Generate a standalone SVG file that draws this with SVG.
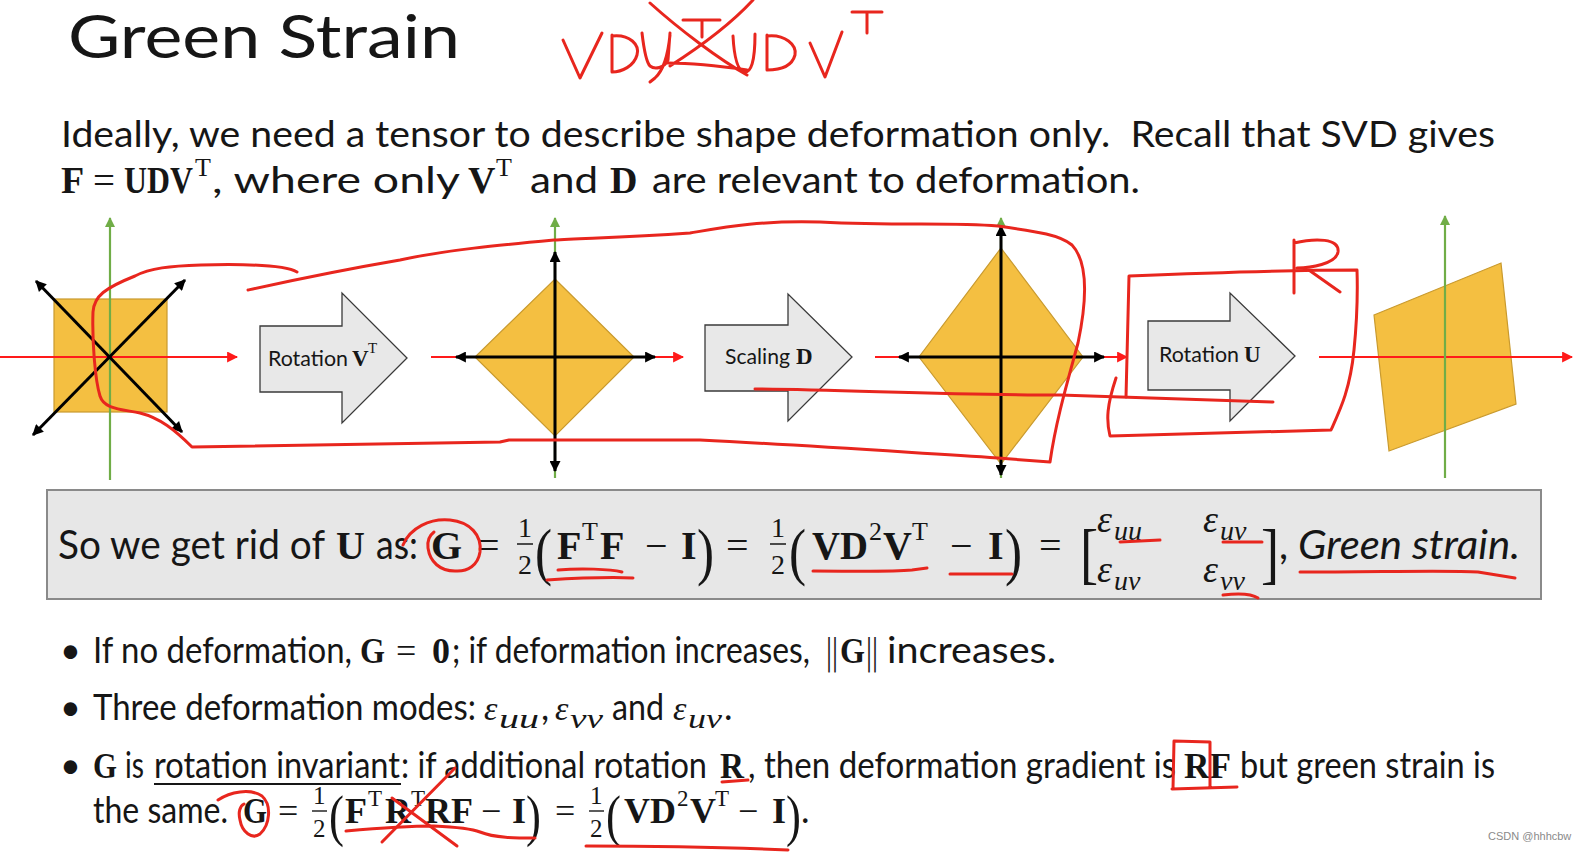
<svg xmlns="http://www.w3.org/2000/svg" width="1584" height="857" viewBox="0 0 1584 857">
<defs>
<style>
.s{font-family:Lato,"Liberation Sans",sans-serif;fill:#161616}
.si{font-family:Lato,"Liberation Sans",sans-serif;font-style:italic;fill:#161616}
.mb{font-family:"Liberation Serif",serif;font-weight:bold;fill:#161616}
.mr{font-family:"Liberation Serif",serif;fill:#161616}
.mi{font-family:"Liberation Serif",serif;font-style:italic;fill:#161616}
.pen{fill:none;stroke:#E8261E;stroke-width:3;stroke-linecap:round;stroke-linejoin:round}
.gax{stroke:#70AD47;stroke-width:2.2;marker-end:url(#ag)}
.rax{stroke:#FF1A1A;stroke-width:1.8;marker-end:url(#ar)}
.bax{stroke:#000;stroke-width:3;marker-start:url(#ab);marker-end:url(#ab)}
.shape{fill:#F4BF41;stroke:#C99A2E;stroke-width:1.2}
.big{fill:#E8E8E8;stroke:#3A3A3A;stroke-width:1.3}
</style>
<marker id="ag" viewBox="0 0 10 10" refX="9" refY="5" markerWidth="10" markerHeight="12" markerUnits="userSpaceOnUse" orient="auto"><path d="M0,0 L10,5 L0,10 z" fill="#70AD47"/></marker>
<marker id="ar" viewBox="0 0 10 10" refX="9" refY="5" markerWidth="11" markerHeight="11" markerUnits="userSpaceOnUse" orient="auto"><path d="M0,0 L10,5 L0,10 z" fill="#FF1A1A"/></marker>
<marker id="ab" viewBox="0 0 10 10" refX="9" refY="5" markerWidth="12" markerHeight="11" markerUnits="userSpaceOnUse" orient="auto-start-reverse"><path d="M0,0 L10,5 L0,10 z" fill="#000"/></marker>
</defs>
<rect width="1584" height="857" fill="#fff"/>

<g id="title">
<text class="s" x="68" y="58" font-size="60" textLength="392" lengthAdjust="spacingAndGlyphs">Green Strain</text>
</g>

<g id="intro">
<text class="s" x="61" y="147" font-size="37" textLength="1434" lengthAdjust="spacingAndGlyphs">Ideally, we need a tensor to describe shape deformation only.&#160; Recall that SVD gives</text>
<text class="mb" x="61" y="193" font-size="38">F</text>
<text class="mr" x="93" y="193" font-size="38" textLength="22" lengthAdjust="spacingAndGlyphs">=</text>
<text class="mb" x="124" y="193" font-size="38" textLength="69" lengthAdjust="spacingAndGlyphs">UDV</text>
<text class="mr" x="195" y="176" font-size="26">T</text>
<text class="s" x="212" y="193" font-size="37" textLength="248" lengthAdjust="spacingAndGlyphs">, where only</text>
<text class="mb" x="468" y="193" font-size="38">V</text>
<text class="mr" x="496" y="176" font-size="26">T</text>
<text class="s" x="530" y="193" font-size="37" textLength="68" lengthAdjust="spacingAndGlyphs">and</text>
<text class="mb" x="610" y="193" font-size="38">D</text>
<text class="s" x="652" y="193" font-size="37" textLength="488" lengthAdjust="spacingAndGlyphs">are relevant to deformation.</text>
</g>

<g id="stage1">
<rect class="shape" x="54" y="299" width="113" height="113"/>
<line class="rax" x1="0" y1="357" x2="237" y2="357"/>
<line class="gax" x1="110" y1="480" x2="110" y2="218"/>
<line class="bax" x1="36" y1="281" x2="182" y2="432"/>
<line class="bax" x1="185" y1="280" x2="33" y2="435"/>
</g>

<g id="arrow-rotation-vt">
<polygon class="big" points="260,326 342,326 342,293 407,358 342,423 342,392 260,392"/>
<text class="s" x="268" y="366" font-size="21" textLength="80" lengthAdjust="spacingAndGlyphs">Rotation</text>
<text class="mb" x="352" y="366" font-size="23">V</text>
<text class="mr" x="368" y="353" font-size="15">T</text>
</g>

<g id="stage2">
<polygon class="shape" points="555,279 634,357 555,436 475,357"/>
<line class="rax" x1="431" y1="357" x2="683" y2="357"/>
<line class="gax" x1="555" y1="478" x2="555" y2="218"/>
<line class="bax" x1="456" y1="357" x2="655" y2="357"/>
<line class="bax" x1="555" y1="252" x2="555" y2="471"/>
</g>

<g id="arrow-scaling-d">
<polygon class="big" points="705,325 788,325 788,294 852,357 788,421 788,391 705,391"/>
<text class="s" x="725" y="364" font-size="21" textLength="65" lengthAdjust="spacingAndGlyphs">Scaling</text>
<text class="mb" x="796" y="364" font-size="23">D</text>
</g>

<g id="stage3">
<polygon class="shape" points="1001,248 1083,357 1001,464 919,357"/>
<line class="rax" x1="875" y1="357" x2="1127" y2="357"/>
<line class="gax" x1="1001" y1="478" x2="1001" y2="218"/>
<line class="bax" x1="899" y1="357" x2="1104" y2="357"/>
<line class="bax" x1="1001" y1="226" x2="1001" y2="475"/>
</g>

<g id="arrow-rotation-u">
<polygon class="big" points="1148,321 1230,321 1230,293 1295,356 1230,421 1230,390 1148,390"/>
<text class="s" x="1159" y="362" font-size="21" textLength="80" lengthAdjust="spacingAndGlyphs">Rotation</text>
<text class="mb" x="1244" y="362" font-size="23">U</text>
</g>

<g id="stage4">
<polygon class="shape" points="1374,315 1501,263 1516,404 1389,451"/>
<line class="rax" x1="1319" y1="357" x2="1572" y2="357"/>
<line class="gax" x1="1445" y1="478" x2="1445" y2="216"/>
</g>

<g id="formula-box">
<rect x="47" y="490" width="1494" height="109" fill="#E7E7E7" stroke="#8A8A8A" stroke-width="2"/>
<text class="s" x="58" y="559" font-size="40" textLength="267" lengthAdjust="spacingAndGlyphs">So we get rid of</text>
<text class="mb" x="336" y="559" font-size="40">U</text>
<text class="s" x="376" y="559" font-size="40" textLength="42" lengthAdjust="spacingAndGlyphs">as:</text>
<text class="mb" x="431" y="559" font-size="40">G</text>
<text class="mr" x="477" y="559" font-size="40">=</text>
<text class="mr" x="518" y="537" font-size="28">1</text>
<line x1="517" y1="544" x2="533" y2="544" stroke="#161616" stroke-width="1.5"/>
<text class="mr" x="518" y="574" font-size="28">2</text>
<text class="mr" x="535" y="573" font-size="64" transform="translate(535 573) scale(0.8 1) translate(-535 -573)">(</text>
<text class="mb" x="557" y="559" font-size="40">F</text>
<text class="mr" x="582" y="540" font-size="26">T</text>
<text class="mb" x="600" y="559" font-size="40">F</text>
<text class="mr" x="645" y="559" font-size="40">−</text>
<text class="mb" x="681" y="559" font-size="40">I</text>
<text class="mr" x="697" y="573" font-size="64" transform="translate(697 573) scale(0.8 1) translate(-697 -573)">)</text>
<text class="mr" x="726" y="559" font-size="40">=</text>
<text class="mr" x="771" y="537" font-size="28">1</text>
<line x1="770" y1="544" x2="786" y2="544" stroke="#161616" stroke-width="1.5"/>
<text class="mr" x="771" y="574" font-size="28">2</text>
<text class="mr" x="789" y="573" font-size="64" transform="translate(789 573) scale(0.8 1) translate(-789 -573)">(</text>
<text class="mb" x="812" y="559" font-size="40" textLength="56" lengthAdjust="spacingAndGlyphs">VD</text>
<text class="mr" x="869" y="540" font-size="26">2</text>
<text class="mb" x="883" y="559" font-size="40">V</text>
<text class="mr" x="912" y="540" font-size="26">T</text>
<text class="mr" x="950" y="559" font-size="40">−</text>
<text class="mb" x="988" y="559" font-size="40">I</text>
<text class="mr" x="1005" y="573" font-size="64" transform="translate(1005 573) scale(0.8 1) translate(-1005 -573)">)</text>
<text class="mr" x="1039" y="559" font-size="40">=</text>
<text class="mr" x="1080" y="576" font-size="68" transform="translate(1080 576) scale(0.8 1) translate(-1080 -576)">[</text>
<text class="mi" x="1097" y="532" font-size="38">ε</text>
<text class="mi" x="1114" y="540" font-size="28">uu</text>
<text class="mi" x="1203" y="532" font-size="38">ε</text>
<text class="mi" x="1220" y="540" font-size="28">uv</text>
<text class="mi" x="1097" y="582" font-size="38">ε</text>
<text class="mi" x="1114" y="590" font-size="28">uv</text>
<text class="mi" x="1203" y="582" font-size="38">ε</text>
<text class="mi" x="1220" y="590" font-size="28">vv</text>
<text class="mr" x="1261" y="576" font-size="68" transform="translate(1261 576) scale(0.8 1) translate(-1261 -576)">]</text>
<text class="s" x="1279" y="559" font-size="40">,</text>
<text class="si" x="1298" y="559" font-size="40" textLength="222" lengthAdjust="spacingAndGlyphs">Green strain.</text>
</g>

<g id="bullets">
<text class="s" x="60" y="663" font-size="36">•</text>
<text class="s" x="93" y="663" font-size="36" textLength="259" lengthAdjust="spacingAndGlyphs">If no deformation,</text>
<text class="mb" x="360" y="663" font-size="36" textLength="25" lengthAdjust="spacingAndGlyphs">G</text>
<text class="mr" x="396" y="663" font-size="36">=</text>
<text class="mb" x="432" y="663" font-size="36">0</text>
<text class="s" x="452" y="663" font-size="36" textLength="358" lengthAdjust="spacingAndGlyphs">; if deformation increases,</text>
<text x="826" y="664" font-family="'DejaVu Sans',sans-serif" font-size="36" fill="#161616" textLength="12" lengthAdjust="spacingAndGlyphs">||</text>
<text class="mb" x="840" y="663" font-size="36" textLength="25" lengthAdjust="spacingAndGlyphs">G</text>
<text x="866" y="664" font-family="'DejaVu Sans',sans-serif" font-size="36" fill="#161616" textLength="12" lengthAdjust="spacingAndGlyphs">||</text>
<text class="s" x="887" y="663" font-size="36" textLength="169" lengthAdjust="spacingAndGlyphs">increases.</text>

<text class="s" x="60" y="720" font-size="36">•</text>
<text class="s" x="93" y="720" font-size="36" textLength="383" lengthAdjust="spacingAndGlyphs">Three deformation modes:</text>
<text class="mi" x="484" y="720" font-size="34">ε</text>
<text class="mi" x="499" y="728" font-size="27" textLength="40" lengthAdjust="spacingAndGlyphs">uu</text>
<text class="s" x="541" y="720" font-size="36">,</text>
<text class="mi" x="555" y="720" font-size="34">ε</text>
<text class="mi" x="570" y="728" font-size="27" textLength="33" lengthAdjust="spacingAndGlyphs">vv</text>
<text class="s" x="612" y="720" font-size="36" textLength="52" lengthAdjust="spacingAndGlyphs">and</text>
<text class="mi" x="673" y="720" font-size="34">ε</text>
<text class="mi" x="688" y="728" font-size="27" textLength="34" lengthAdjust="spacingAndGlyphs">uv</text>
<text class="s" x="724" y="720" font-size="36">.</text>

<text class="s" x="60" y="778" font-size="36">•</text>
<text class="mb" x="93" y="778" font-size="36" textLength="24" lengthAdjust="spacingAndGlyphs">G</text>
<text class="s" x="125" y="778" font-size="36" textLength="19" lengthAdjust="spacingAndGlyphs">is</text>
<text class="s" x="154" y="778" font-size="36" textLength="246" lengthAdjust="spacingAndGlyphs">rotation invariant</text>
<line x1="154" y1="784" x2="401" y2="784" stroke="#161616" stroke-width="2"/>
<text class="s" x="401" y="778" font-size="36" textLength="306" lengthAdjust="spacingAndGlyphs">: if additional rotation</text>
<text class="mb" x="720" y="778" font-size="36" textLength="24" lengthAdjust="spacingAndGlyphs">R</text>
<text class="s" x="748" y="778" font-size="36" textLength="428" lengthAdjust="spacingAndGlyphs">, then deformation gradient is</text>
<text class="mb" x="1184" y="778" font-size="36" textLength="47" lengthAdjust="spacingAndGlyphs">RF</text>
<text class="s" x="1240" y="778" font-size="36" textLength="255" lengthAdjust="spacingAndGlyphs">but green strain is</text>

<text class="s" x="93" y="823" font-size="36" textLength="135" lengthAdjust="spacingAndGlyphs">the same.</text>
<text class="mb" x="243" y="823" font-size="36" textLength="24" lengthAdjust="spacingAndGlyphs">G</text>
<text class="mr" x="278" y="823" font-size="36">=</text>
<text class="mr" x="313" y="804" font-size="25">1</text>
<line x1="312" y1="811" x2="327" y2="811" stroke="#161616" stroke-width="1.4"/>
<text class="mr" x="313" y="837" font-size="25">2</text>
<text class="mr" x="329" y="835" font-size="56" transform="translate(329 835) scale(0.8 1) translate(-329 -835)">(</text>
<text class="mb" x="345" y="823" font-size="36">F</text>
<text class="mr" x="368" y="806" font-size="23">T</text>
<text class="mb" x="385" y="823" font-size="36">R</text>
<text class="mr" x="411" y="806" font-size="23">T</text>
<text class="mb" x="425" y="823" font-size="36" textLength="48" lengthAdjust="spacingAndGlyphs">RF</text>
<text class="mr" x="481" y="823" font-size="36">−</text>
<text class="mb" x="512" y="823" font-size="36">I</text>
<text class="mr" x="526" y="835" font-size="56" transform="translate(526 835) scale(0.8 1) translate(-526 -835)">)</text>
<text class="mr" x="555" y="823" font-size="36">=</text>
<text class="mr" x="590" y="804" font-size="25">1</text>
<line x1="589" y1="811" x2="604" y2="811" stroke="#161616" stroke-width="1.4"/>
<text class="mr" x="590" y="837" font-size="25">2</text>
<text class="mr" x="606" y="835" font-size="56" transform="translate(606 835) scale(0.8 1) translate(-606 -835)">(</text>
<text class="mb" x="624" y="823" font-size="36" textLength="52" lengthAdjust="spacingAndGlyphs">VD</text>
<text class="mr" x="677" y="806" font-size="23">2</text>
<text class="mb" x="690" y="823" font-size="36">V</text>
<text class="mr" x="715" y="806" font-size="23">T</text>
<text class="mr" x="738" y="823" font-size="36">−</text>
<text class="mb" x="772" y="823" font-size="36">I</text>
<text class="mr" x="786" y="835" font-size="56" transform="translate(786 835) scale(0.8 1) translate(-786 -835)">)</text>
<text class="s" x="801" y="823" font-size="36">.</text>
</g>

<g id="watermark">
<text x="1488" y="840" font-family="'Liberation Sans',sans-serif" font-size="11" fill="#8a8a8a">CSDN @hhhcbw</text>
</g>

<g id="annotations">
<path class="pen" d="M563,40 L580,78 L602,33"/>
<path class="pen" d="M612,35 L612,72 M612,36 C630,34 640,45 637,55 C634,66 622,72 612,72"/>
<path class="pen" d="M642,33 C644,50 646,62 650,66 C655,70 664,68 668,60 L670,33 M670,35 C668,55 664,70 655,78 L650,82"/>
<path class="pen" d="M683,20 L720,20 M702,20 L702,37"/>
<path class="pen" d="M650,3 C680,30 720,60 747,75 M753,0 C730,25 695,50 670,66 M668,63 C690,63 720,66 747,70"/>
<path class="pen" d="M733,36 C734,55 737,70 744,72 C751,73 755,62 755,34"/>
<path class="pen" d="M767,35 L767,70 M767,36 C785,34 797,45 795,55 C792,66 780,70 767,70"/>
<path class="pen" d="M810,43 L825,77 L842,32"/>
<path class="pen" d="M852,12 L882,12 M867,12 L867,33"/>

<path class="pen" d="M297,272 C285,265 240,264 201,265 C170,266 150,268 135,276 C105,288 94,296 93,312 C92,340 95,380 100,396 C104,409 120,409 140,413 C160,418 175,430 192,447 L500,442 L509,440 L700,440 C800,445 900,452 998,458 L1050,462 C1056,420 1068,380 1078,343 C1087,300 1088,262 1072,245 C1060,235 1040,232 998,226 C950,222 900,226 820,222 C760,220 720,228 690,233 C620,238 580,238 554,240 C500,245 446,250 400,260 C330,272 280,283 248,290"/>
<path class="pen" d="M755,389 C850,390 950,395 1060,395 C1150,398 1220,400 1273,402"/>
<path class="pen" d="M1126,397 C1127,360 1128,320 1129,276 C1200,273 1290,270 1357,270 C1358,300 1356,330 1354,350 C1350,390 1340,410 1331,430 C1250,432 1170,434 1110,436 C1106,420 1107,405 1116,378"/>
<path class="pen" d="M1294,240 L1294,293 M1294,243 C1315,238 1340,238 1338,252 C1336,264 1310,268 1297,268 M1306,268 L1340,292"/>

<path class="pen" d="M403,545 C410,528 430,518 450,520 C470,522 482,535 480,552 C478,565 468,572 455,571 C440,571 430,562 428,548 C427,540 430,535 434,532"/>
<path class="pen" d="M558,570 C580,568 610,569 622,572 M547,580 C580,578 610,577 633,578"/>
<path class="pen" d="M813,571 C850,571 890,572 912,570 L927,568"/>
<path class="pen" d="M950,574 L1012,574"/>
<path class="pen" d="M1120,542 L1160,540 M1223,542 L1262,542 M1223,595 C1240,593 1252,594 1258,598"/>
<path class="pen" d="M1300,572 C1380,572 1450,570 1478,572 L1515,578"/>

<path class="pen" d="M722,782 L748,780"/>
<path class="pen" d="M1173,789 L1174,741 L1210,742 L1210,788 M1172,789 L1237,787"/>
<path class="pen" d="M218,800 C230,792 250,788 262,796 C272,805 270,825 260,834 C252,840 242,832 240,820 C238,812 240,806 244,804"/>
<path class="pen" d="M455,768 L382,842 M392,798 L457,846"/>
<path class="pen" d="M346,831 C380,828 420,826 434,826 C455,827 470,828 480,832 C495,838 515,838 535,838"/>
<path class="pen" d="M586,846 C650,846 720,847 788,850"/>
</g>
</svg>
